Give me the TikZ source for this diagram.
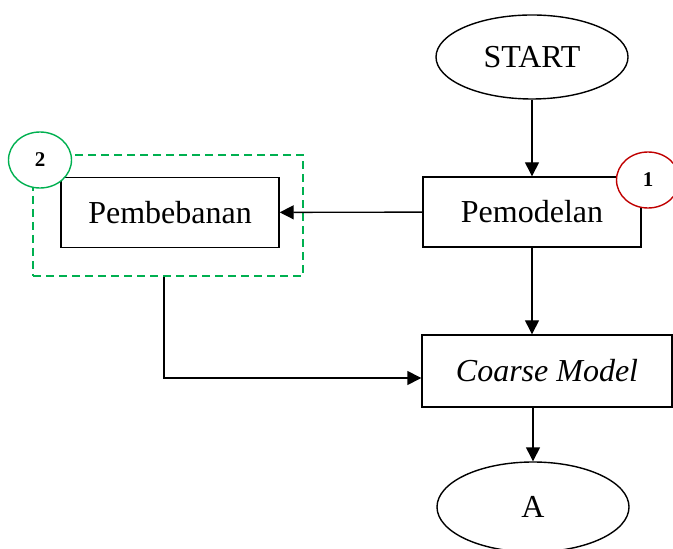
\documentclass[tikz,border=0pt]{standalone}
\usepackage{fontspec}
\setmainfont{Liberation Serif}
\usetikzlibrary{shapes.geometric,arrows.meta}
\tikzset{
  procbox/.style={draw,line width=0.7pt,minimum width=#1,minimum height=35pt,inner sep=0pt,
    font=\fontsize{16}{20}\selectfont},
  endpt/.style={draw,ellipse,line width=0.7pt,minimum width=96pt,minimum height=42pt,inner sep=0pt,
    font=\fontsize{16}{20}\selectfont},
  tag/.style={draw=#1,fill=white,ellipse,line width=0.7pt,minimum width=31.5pt,minimum height=28pt,
    inner sep=0pt,font=\bfseries\fontsize{10.5}{12}\selectfont},
  grpbox/.style={draw=green!60!black,dashed,dash pattern=on 4pt off 2.5pt,line width=0.7pt,
    minimum width=135pt,minimum height=60.5pt,inner sep=0pt},
  flow/.style={line width=0.7pt,-{Triangle[length=7pt,width=7pt]}}
}
\definecolor{tagred}{RGB}{192,0,0}
\definecolor{taggreen}{RGB}{0,176,80}
\begin{document}
\begin{tikzpicture}[x=0.5pt,y=-0.5pt]
  \clip (0,0) rectangle (673,549);
  \node[grpbox,draw=taggreen] (grp) at (168,215.5) {};
  \node[endpt] (start) at (532,57) {START};
  \node[procbox=109pt] (pemodelan) at (532,212) {Pemodelan};
  \node[procbox=109pt] (pembebanan) at (170,212.5) {Pembebanan};
  \node[procbox=125pt,minimum height=36pt] (coarse) at (547,371) {\itshape Coarse Model};
  \node[endpt,minimum height=45pt] (a) at (533,507) {A};
  \node[tag=tagred] (tag1) at (648,180) {1};
  \node[tag=taggreen] (tag2) at (40,160) {2};
  \coordinate (turn) at (164,378);
  \draw[flow] (start) -- (pemodelan);
  \draw[flow] (pemodelan) -- (pembebanan);
  \draw[flow] (pemodelan.south) -- (pemodelan.south |- coarse.north);
  \draw[flow] (grp.south -| turn) -- (turn) -- (coarse.west |- turn);
  \draw[flow] (a.north |- coarse.south) -- (a);
\end{tikzpicture}
\end{document}
